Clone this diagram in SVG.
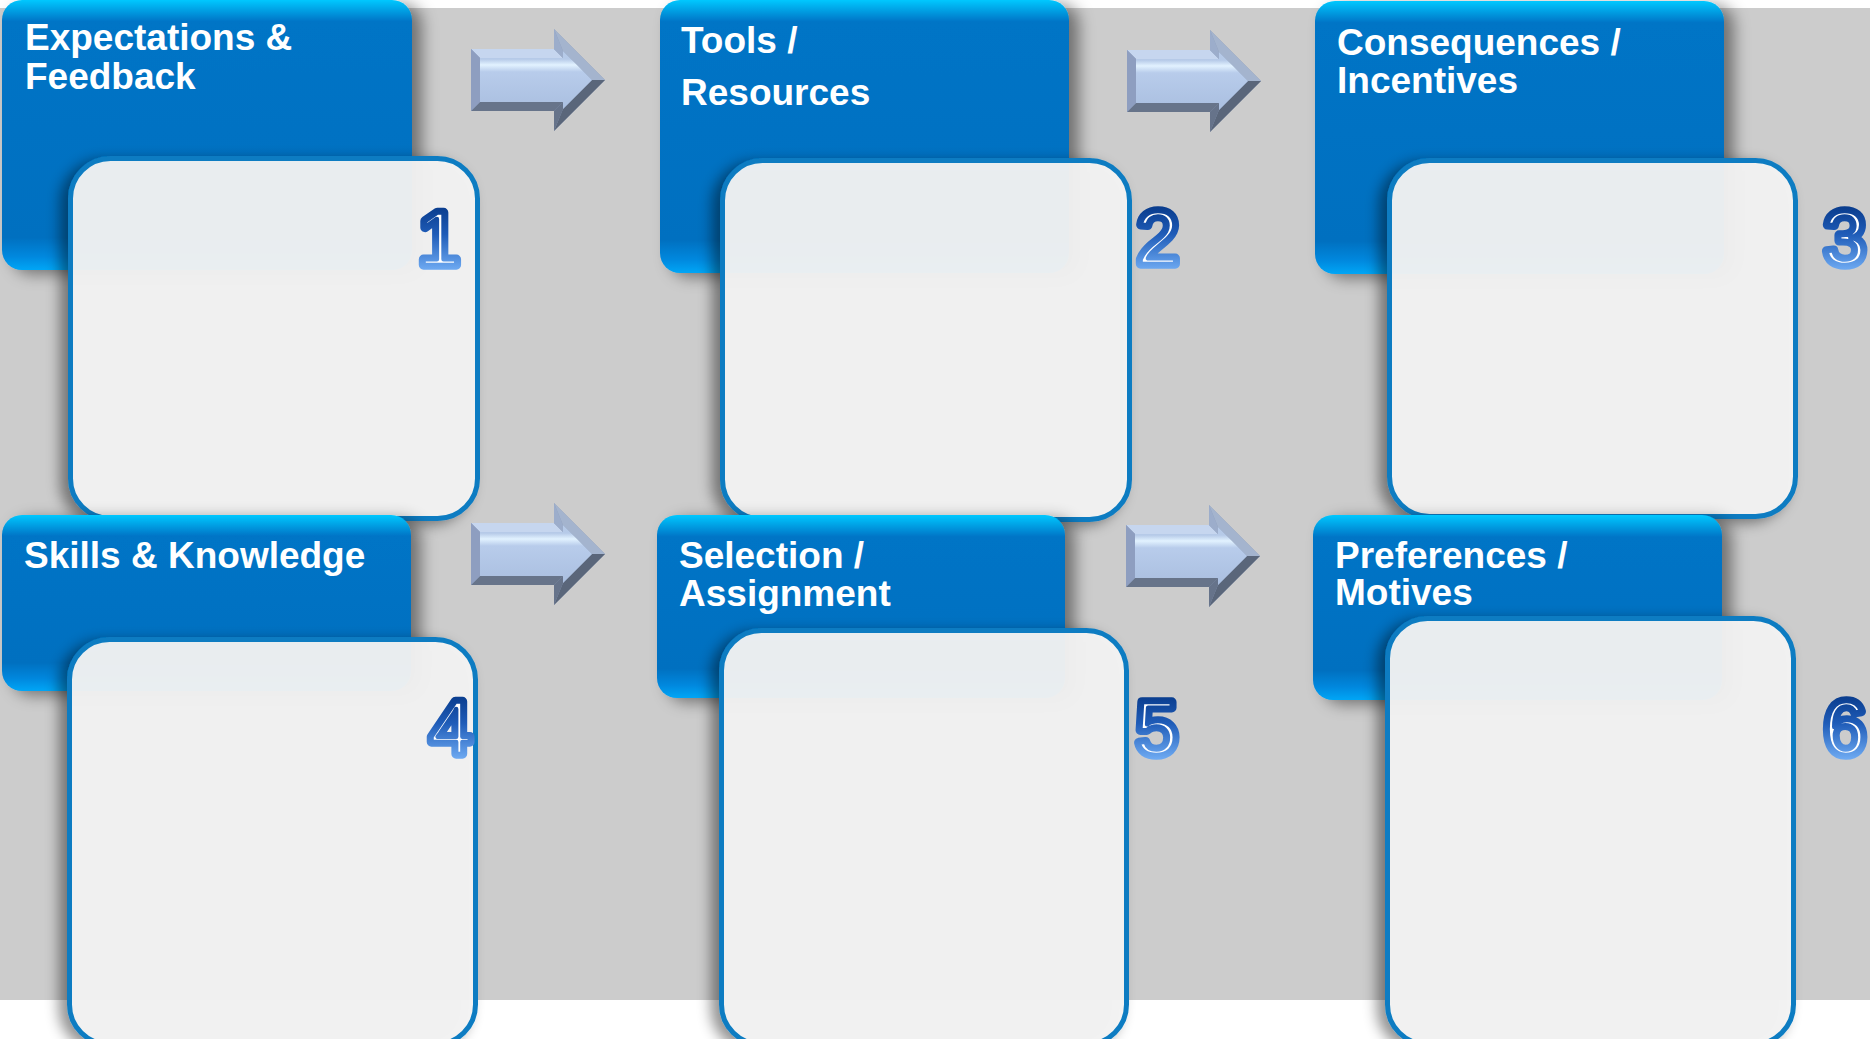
<svg xmlns="http://www.w3.org/2000/svg" width="1870" height="1039" viewBox="0 0 1870 1039">
<style>
.ht{font-family:"Liberation Sans",Arial,sans-serif;font-weight:bold;font-size:37px;fill:#fff}
.num{font-family:"Liberation Sans",Arial,sans-serif;font-size:76px;text-anchor:middle;stroke-linejoin:round}
.r1 .no{fill:url(#ng1);stroke:url(#ng1);stroke-width:9.5}
.r1 .ni{fill:#fff;stroke:url(#ng1);stroke-width:4.5}
.r2 .no{fill:url(#ng2);stroke:url(#ng2);stroke-width:9.5}
.r2 .ni{fill:#fff;stroke:url(#ng2);stroke-width:4.5}
.h1{fill:url(#hg1);filter:url(#hs)}
.h2{fill:url(#hg2);filter:url(#hs)}
.pn{fill:#f3f3f3;fill-opacity:0.945;stroke:#0a7cc2;stroke-width:5;filter:url(#ps)}
</style>
<defs>
<linearGradient id="hg1" x1="0" y1="0" x2="0" y2="1">
<stop offset="0" stop-color="#00c8ff"/><stop offset="0.08" stop-color="#0074c6"/><stop offset="0.88" stop-color="#0070c0"/><stop offset="0.95" stop-color="#0088de"/><stop offset="1" stop-color="#00a6f6"/>
</linearGradient>
<linearGradient id="hg2" x1="0" y1="0" x2="0" y2="1">
<stop offset="0" stop-color="#00c8ff"/><stop offset="0.12" stop-color="#0074c6"/><stop offset="0.84" stop-color="#0070c0"/><stop offset="0.93" stop-color="#0088de"/><stop offset="1" stop-color="#00a6f6"/>
</linearGradient>
<linearGradient id="ng1" gradientUnits="userSpaceOnUse" x1="0" y1="205" x2="0" y2="270">
<stop offset="0" stop-color="#083a8a"/><stop offset="0.45" stop-color="#1f5cb8"/><stop offset="1" stop-color="#6eaaf2"/>
</linearGradient>
<linearGradient id="ng2" gradientUnits="userSpaceOnUse" x1="0" y1="694" x2="0" y2="759">
<stop offset="0" stop-color="#083a8a"/><stop offset="0.45" stop-color="#1f5cb8"/><stop offset="1" stop-color="#6eaaf2"/>
</linearGradient>
<linearGradient id="af" x1="0" y1="0" x2="0" y2="1">
<stop offset="0" stop-color="#b6cae8"/><stop offset="0.14" stop-color="#b6cae8"/><stop offset="0.24" stop-color="#e2f2ff"/><stop offset="0.36" stop-color="#b8cceb"/><stop offset="1" stop-color="#aabfe0"/>
</linearGradient>
<filter id="hs" x="-10%" y="-10%" width="130%" height="130%">
<feDropShadow dx="10" dy="4" stdDeviation="8" flood-color="#000" flood-opacity="0.45"/>
</filter>
<filter id="ps" x="-15%" y="-10%" width="130%" height="130%">
<feDropShadow dx="-8" dy="4" stdDeviation="7" flood-color="#000" flood-opacity="0.45"/>
</filter>
<g id="arrow">
<polygon points="0,20 83,20 83,0 134,51 83,102 83,82 0,82" fill="#8898b4"/>
<polygon points="0,20 83,20 92,29 9,29" fill="#c6d6ef"/>
<polygon points="83,20 83,0 92,22 92,29" fill="#9cadcb"/>
<polygon points="83,0 134,51 121,51 92,22" fill="#a4b4ce"/>
<polygon points="134,51 83,102 92,80 121,51" fill="#5a667a"/>
<polygon points="83,102 83,82 92,73 92,80" fill="#66738a"/>
<polygon points="83,82 0,82 9,73 92,73" fill="#67748a"/>
<polygon points="0,82 0,20 9,29 9,73" fill="#8e9ec0"/>
<polygon points="9,29 92,29 92,22 121,51 92,80 92,73 9,73" fill="url(#af)"/>
</g>
</defs>

<rect x="0" y="0" width="1870" height="1039" fill="#ffffff"/>
<rect x="0" y="8" width="1870" height="992" fill="#cccccc"/>

<g id="connectors">
<use href="#arrow" transform="translate(471,29)"/>
<use href="#arrow" transform="translate(1127,30)"/>
<use href="#arrow" transform="translate(471,503)"/>
<use href="#arrow" transform="translate(1126,505)"/>
</g>

<g id="node1" class="r1">
<rect class="h1" x="2" y="0" width="410" height="270" rx="20"/>
<text class="ht" x="25" y="50">Expectations &amp;</text>
<text class="ht" x="25" y="89">Feedback</text>
<rect class="pn" x="70.5" y="158.5" width="407" height="360" rx="40"/>
<text class="num no" x="439" y="265">1</text>
<text class="num ni" x="439" y="265">1</text>
</g>

<g id="node2" class="r1">
<rect class="h1" x="660" y="0" width="409" height="273" rx="20"/>
<text class="ht" x="681" y="53">Tools /</text>
<text class="ht" x="681" y="105">Resources</text>
<rect class="pn" x="722.5" y="160.5" width="407" height="359" rx="40"/>
<text class="num no" x="1158" y="264">2</text>
<text class="num ni" x="1158" y="264">2</text>
</g>

<g id="node3" class="r1">
<rect class="h1" x="1315" y="1" width="409" height="273" rx="20"/>
<text class="ht" x="1337" y="55">Consequences /</text>
<text class="ht" x="1337" y="93">Incentives</text>
<rect class="pn" x="1389.5" y="160.5" width="406" height="356" rx="40"/>
<text class="num no" x="1845" y="264">3</text>
<text class="num ni" x="1845" y="264">3</text>
</g>

<g id="node4" class="r2">
<rect class="h2" x="2" y="515" width="409" height="176" rx="20"/>
<text class="ht" x="24" y="568">Skills &amp; Knowledge</text>
<rect class="pn" x="69.5" y="639.5" width="406" height="405" rx="40"/>
<text class="num no" x="451" y="754">4</text>
<text class="num ni" x="451" y="754">4</text>
</g>

<g id="node5" class="r2">
<rect class="h2" x="657" y="515" width="408" height="183" rx="20"/>
<text class="ht" x="679" y="568">Selection /</text>
<text class="ht" x="679" y="606">Assignment</text>
<rect class="pn" x="721.5" y="630.5" width="405" height="414" rx="40"/>
<text class="num no" x="1157" y="754">5</text>
<text class="num ni" x="1157" y="754">5</text>
</g>

<g id="node6" class="r2">
<rect class="h2" x="1313" y="515" width="409" height="185" rx="20"/>
<text class="ht" x="1335" y="568">Preferences /</text>
<text class="ht" x="1335" y="605">Motives</text>
<rect class="pn" x="1387.5" y="618.5" width="406" height="426" rx="40"/>
<text class="num no" x="1845" y="754">6</text>
<text class="num ni" x="1845" y="754">6</text>
</g>
</svg>
